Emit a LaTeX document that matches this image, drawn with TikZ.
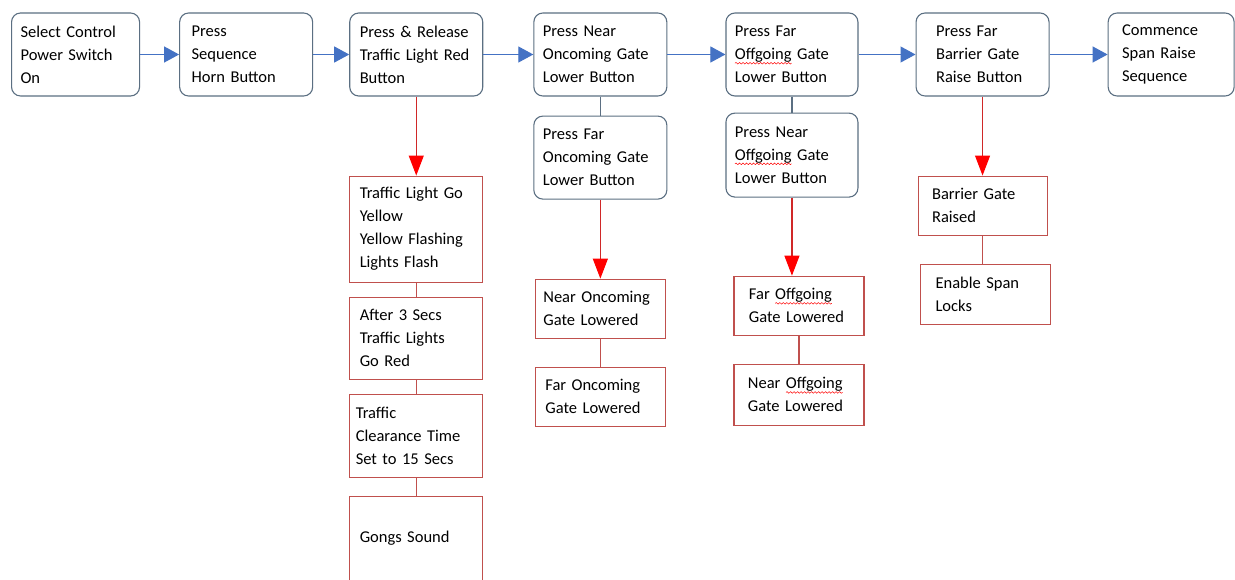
\documentclass[tikz,border=0pt]{standalone}
\usepackage{fontspec}
\setmainfont{Carlito}
\usetikzlibrary{arrows.meta,positioning,decorations.pathmorphing}
\definecolor{boxgray}{HTML}{5B6F82}
\definecolor{resred}{HTML}{C0504D}
\definecolor{linkred}{HTML}{D02828}
\definecolor{flowblue}{HTML}{4472C4}
\newcommand{\boxfont}{\fontsize{16.5}{23}\selectfont\hyphenpenalty=10000 }
\newlength{\spellwd}
\newcommand{\spell}[1]{\settowidth{\spellwd}{#1}\mbox{\rlap{#1}\tikz[baseline=0pt,sharp corners]{%
  \useasboundingbox (0,0) rectangle (\spellwd,0);
  \draw[red,line width=0.5pt,sharp corners,decorate,decoration={snake,amplitude=0.8pt,segment length=3.5pt}]
    (0,-3.5pt) -- (\spellwd,-3.5pt);}}}

\begin{document}
\begin{tikzpicture}[
  stepbox/.style={draw=boxgray,rounded corners=9pt,line width=1.1pt,minimum height=83pt,
    inner xsep=9pt,inner ysep=2pt,text width=115pt,align=left,font=\boxfont},
  resbox/.style={draw=resred,line width=1.1pt,inner xsep=10pt,inner ysep=2pt,
    text width=113pt,align=left,font=\boxfont},
  flow/.style={draw=flowblue,line width=1.1pt,-{Triangle[length=15pt,width=16pt]}},
  drop/.style={draw=linkred,line width=1.1pt,-{Triangle[length=20pt,width=15pt,color=red]}},
  link/.style={draw=boxgray,line width=1.1pt},
  redlink/.style={draw=resred,line width=1.1pt}]
\fill[white] (0,0) rectangle (1235pt,-580pt);
\useasboundingbox (0,0) rectangle (1235pt,-580pt);

% top row
\node[stepbox,anchor=west,text width=110pt] (sel) at (11pt,-54.5pt) {Select Control\\Power Switch\\On};
\node[stepbox,right=39pt of sel,inner xsep=12pt,text width=109pt] (horn) {Press\\Sequence\\Horn Button};
\node[stepbox,right=36pt of horn,inner xsep=10pt,text width=113pt] (red) {Press \& Release\\Traffic Light Red\\Button};
\node[stepbox,right=50pt of red] (nearon) {Press Near\\Oncoming Gate\\Lower Button};
\node[stepbox,right=58pt of nearon,text width=114pt] (faroff) {Press Far\\\spell{Offgoing} Gate\\Lower Button};
\node[stepbox,right=57pt of faroff,inner xsep=20pt,text width=93pt] (barrier) {Press Far\\Barrier Gate\\Raise Button};
\node[stepbox,right=58pt of barrier,inner xsep=14pt,text width=98pt] (span) {Commence\\Span Raise\\Sequence};

% second buttons
\node[stepbox,below=19pt of nearon] (faron) {Press Far\\Oncoming Gate\\Lower Button};
\node[stepbox,below=16pt of faroff,text width=114pt,minimum height=84pt] (nearoff) {Press Near\\\spell{Offgoing} Gate\\Lower Button};

% results
\node[resbox,below=79pt of red,minimum height=106pt] (yellow) {Traffic Light Go\\Yellow\\Yellow Flashing\\Lights Flash};
\node[resbox,below=14pt of yellow,minimum height=82pt] (gored) {After 3 Secs\\Traffic Lights\\Go Red};
\node[resbox,below=14pt of gored,minimum height=83pt,inner xsep=6pt,text width=121pt] (clear) {Traffic\\Clearance Time\\Set to 15 Secs};
\node[resbox,below=18pt of clear,minimum height=84pt] (gongs) {Gongs Sound};
\node[resbox,below=79pt of faron,minimum height=59pt,inner xsep=8pt,text width=114pt] (nearlow) {Near Oncoming\\Gate Lowered};
\node[resbox,below=28pt of nearlow,minimum height=59pt,inner xsep=10pt,text width=110pt] (farlow) {Far Oncoming\\Gate Lowered};
\node[resbox,below=78pt of nearoff,xshift=7pt,minimum height=59pt,inner xsep=15pt,text width=100pt] (farofflow) {Far \spell{Offgoing}\\Gate Lowered};
\node[resbox,below=28pt of farofflow,minimum height=61pt,inner xsep=14pt,text width=102pt] (nearofflow) {Near \spell{Offgoing}\\Gate Lowered};
\node[resbox,below=79pt of barrier,minimum height=59pt,inner xsep=14pt,text width=101pt] (raised) {Barrier Gate\\Raised};
\node[resbox,below=28pt of raised,xshift=3pt,minimum height=60pt,inner xsep=15pt,text width=100pt] (locks) {Enable Span\\Locks};

% connectors
\foreach \a/\b in {sel/horn,horn/red,red/nearon,nearon/faroff,faroff/barrier,barrier/span}
  \draw[flow] (\a) -- (\b);
\draw[link] (nearon) -- (faron);
\draw[link] (faroff) -- (nearoff);
\draw[drop] (red) -- (yellow);
\draw[drop] (faron) -- (nearlow);
\draw[drop] (nearoff.south) -- (nearoff.south |- farofflow.north);
\draw[drop] (barrier) -- (raised);
\foreach \a/\b in {yellow/gored,gored/clear,clear/gongs,nearlow/farlow,farofflow/nearofflow}
  \draw[redlink] (\a) -- (\b);
\draw[redlink] (raised.south) -- (raised.south |- locks.north);
\end{tikzpicture}
\end{document}
